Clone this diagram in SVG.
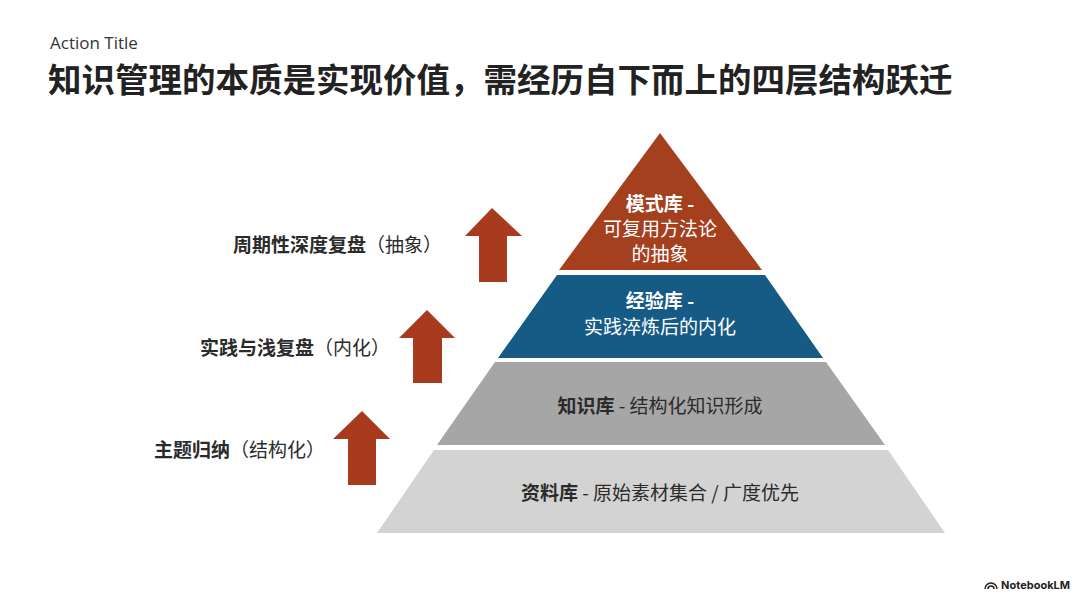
<svg xmlns="http://www.w3.org/2000/svg" width="1080" height="607" viewBox="0 0 1080 607">
<style>
text{font-family:"Noto Sans CJK SC","Noto Sans",sans-serif}
.lbl{font-size:19px;fill:#2b2b2b;text-anchor:end}
.b{font-weight:bold}
.w{fill:#fff;font-size:19px;text-anchor:middle}
.d{fill:#2b2b2b;font-size:19px;text-anchor:middle}
.arr{fill:#A83A1E}
</style>
<rect width="1080" height="607" fill="#fff"/>
<text x="50" y="49" font-size="17" fill="#333" style="font-family:'Open Sans','Noto Sans',sans-serif">Action Title</text>
<text x="48" y="92" font-size="33.5" font-weight="bold" fill="#222">知识管理的本质是实现价值，需经历自下而上的四层结构跃迁</text>
<g id="layer-top"><polygon points="660,133 762,270 559,270" fill="#A5401F"/>
<text class="w b" x="660" y="211">模式库 -</text><text class="w" x="660" y="236">可复用方法论</text><text class="w" x="660" y="261">的抽象</text></g>
<g id="layer-exp"><polygon points="557,275 765,275 823,358 498,358" fill="#165A86"/>
<text class="w" x="660" y="308"><tspan class="b">经验库 -</tspan></text><text class="w" x="660" y="334">实践淬炼后的内化</text></g>
<g id="layer-know"><polygon points="495,362 826,362 885,445 437,445" fill="#A6A6A6"/>
<text class="d" x="660" y="413"><tspan class="b">知识库</tspan> - 结构化知识形成</text></g>
<g id="layer-data"><polygon points="434,450 888,450 945,533 377,533" fill="#D3D3D3"/>
<text class="d" x="660" y="500"><tspan class="b">资料库</tspan> - 原始素材集合 / 广度优先</text></g>
<g id="connectors">
<polygon class="arr" points="492,208 522,236 507,236 507,282 479,282 479,236 465,236"/>
<polygon class="arr" points="427,310 455,338 442,338 442,383 413,383 413,338 399,338"/>
<polygon class="arr" points="362,411 390,439 376,439 376,485 348,485 348,439 333,439"/>
</g>
<g id="labels">
<text class="lbl" x="442" y="252"><tspan class="b">周期性深度复盘</tspan>（抽象）</text>
<text class="lbl" x="390" y="355"><tspan class="b">实践与浅复盘</tspan>（内化）</text>
<text class="lbl" x="325" y="457"><tspan class="b">主题归纳</tspan>（结构化）</text>
</g>
<text x="1070" y="589" font-size="11" font-weight="bold" fill="#222" text-anchor="end" style="font-family:Inter,sans-serif">NotebookLM</text>
<path d="M985,589 a6,6 0 0 1 12,0 M988,589 a3,3 0 0 1 6,0" fill="none" stroke="#222" stroke-width="1.5"/>
</svg>
